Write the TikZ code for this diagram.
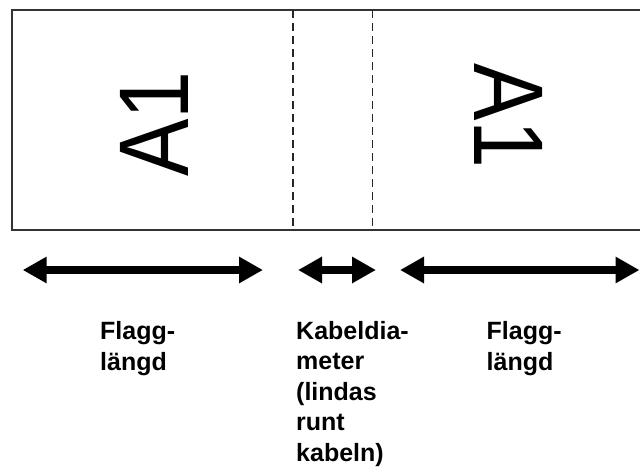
\documentclass[tikz,border=0pt]{standalone}
\usepackage{fontspec}
\setmainfont{Liberation Sans}
\usetikzlibrary{arrows.meta}
\tikzset{
  frame/.style={draw=black!80, line width=2pt},
  cut/.style={draw=black!85, line width=1.3pt, dash pattern=on 8pt off 5pt},
  big/.style={inner sep=0pt, font=\fontsize{99}{110}\selectfont},
  dimarrow/.style={line width=7.5pt, {Triangle[length=24pt,width=25pt]}-{Triangle[length=24pt,width=25pt]}},
  lbl/.style={inner sep=0pt, align=left, font=\bfseries\fontsize{25}{30.5}\selectfont},
}
\begin{document}
\begin{tikzpicture}[x=1pt,y=-1pt]
\useasboundingbox (0,0) rectangle (640,471);
\clip (0,0) rectangle (640,471);
\draw[frame] (12,10) rectangle (650,230);
\coordinate (c1t) at (293,10);
\coordinate (c1b) at (293,230);
\coordinate (c2t) at (372.5,10);
\coordinate (c2b) at (372.5,230);
\draw[cut] (c1t) -- (c1b);
\draw[cut] (c2t) -- (c2b);
\node[big, rotate=90, anchor=base west] (a1l) at (188,177) {\scalebox{0.87}[1]{A1}};
\node[big, rotate=-90, anchor=base west] (a1r) at (474,63) {\scalebox{0.87}[1]{A1}};
\coordinate (l1) at (22.7,270);
\coordinate (l2) at (263,270);
\coordinate (m1) at (298,270);
\coordinate (m2) at (376,270);
\coordinate (r1) at (400,270);
\coordinate (r2) at (639.5,270);
\draw[dimarrow] (l1) -- (l2);
\draw[dimarrow] (m1) -- (m2);
\draw[dimarrow] (r1) -- (r2);
\node[lbl, anchor=base west] (t1) at (100,370) {Flagg-\\längd};
\node[lbl, anchor=base west] (t2) at (296,461) {Kabeldia-\\meter\\(lindas\\runt\\kabeln)};
\node[lbl, anchor=base west] (t3) at (486.5,370) {Flagg-\\längd};
\end{tikzpicture}
\end{document}
